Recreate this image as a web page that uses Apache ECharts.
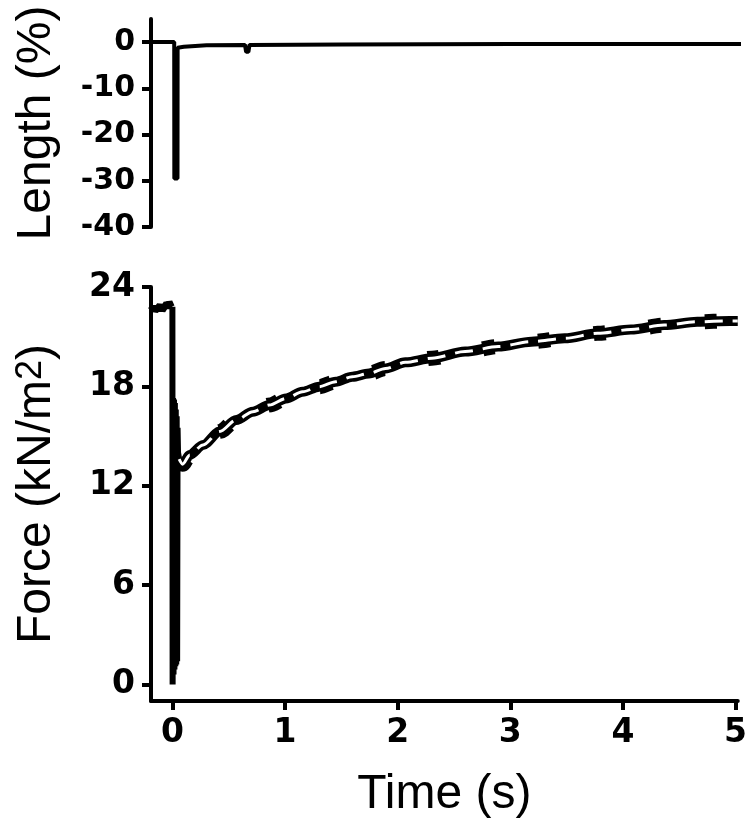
<!DOCTYPE html>
<html>
<head>
<meta charset="utf-8">
<script src="https://cdn.jsdelivr.net/npm/echarts@6/dist/echarts.min.js"></script>
<style>
  html, body { margin: 0; padding: 0; background: #fff; }
  #chart { width: 750px; height: 824px; }
</style>
</head>
<body>
<div id="chart"></div>
<script>
// tick labels
const timeTicks = [0, 1, 2, 3, 4, 5];
const lengthTicks = [0, -10, -20, -30, -40];
const forceTicks = [0, 6, 12, 18, 24];

// length step (%)
const lengthTime = [-0.19, 0.015, 0.016, 0.044, 0.045, 0.1, 0.3, 0.64, 0.65, 0.67, 0.68, 1.5, 3.0, 5.02];
const lengthValue = [0, 0, -29.5, -29.5, -1.2, -1.0, -0.7, -0.6, -2.1, -2.1, -0.6, -0.5, -0.4, -0.4];

// force before the release (noisy plateau)
const preTime = [-0.19, -0.17, -0.15, -0.13, -0.11, -0.09, -0.07, -0.05, -0.04, -0.03, -0.01, 0.0];
const preForce = [22.6, 22.8, 22.6, 22.7, 22.9, 22.6, 22.8, 23.0, 22.7, 23.1, 22.8, 22.8];

// release transient (fast oscillation)
const stepTime = [0.0, 0.002, 0.006, 0.01, 0.014, 0.018, 0.022, 0.026, 0.03, 0.034, 0.038, 0.042, 0.046, 0.05, 0.06];
const stepForce = [22.8, 0.0, 17.3, 0.6, 17.2, 0.9, 17.0, 1.1, 16.6, 1.2, 16.2, 1.4, 15.5, 14.0, 13.6];

// force recovery (trace with white dashed fit)
const recTime = [0.06, 0.09, 0.155, 0.272, 0.42, 0.567, 0.714, 0.861, 1.009, 1.155, 1.303, 1.45, 1.597, 1.745, 1.892, 2.069, 2.304, 2.599, 2.893, 3.187, 3.482, 3.776, 4.071, 4.366, 4.66, 4.95, 5.02];
const recForce = [13.6, 13.3, 13.86, 14.46, 15.27, 15.97, 16.47, 16.87, 17.27, 17.67, 17.98, 18.28, 18.58, 18.78, 19.08, 19.45, 19.7, 20.1, 20.4, 20.7, 20.9, 21.2, 21.43, 21.7, 21.9, 21.95, 21.95];

const zip = (xs, ys) => xs.map((x, i) => [x, ys[i]]);

const font = "'Liberation Sans', Arial, sans-serif";
const tickFont = "'DejaVu Sans', sans-serif";
const black = '#000';

const axisLine = { onZero: false, lineStyle: { color: black, width: 4 } };
const tick = (vals) => ({ customValues: vals, length: 9, lineStyle: { color: black, width: 4 } });
const label = (vals, size, margin) => ({
  customValues: vals, color: black, fontFamily: tickFont, fontWeight: 'bold', fontSize: size, margin: margin
});
const nameStyle = { color: black, fontFamily: font, fontSize: 48 };

const chart = echarts.init(document.getElementById('chart'));

const option = {
  animation: false,
  backgroundColor: '#fff',
  grid: [
    { left: 151, right: 9, top: 19, height: 208 },
    { left: 151, right: 9, top: 287, height: 416 }
  ],
  xAxis: [
    { gridIndex: 0, type: 'value', min: -0.19, max: 5.02, show: false },
    {
      gridIndex: 1, type: 'value', min: -0.19, max: 5.02,
      name: 'Time (s)', nameLocation: 'middle', nameGap: 70, nameTextStyle: nameStyle,
      axisLine: axisLine, axisTick: tick(timeTicks), axisLabel: label(timeTicks, 33, 16),
      splitLine: { show: false }
    }
  ],
  yAxis: [
    {
      gridIndex: 0, type: 'value', min: -40, max: 5,
      name: 'Length (%)', nameLocation: 'middle', nameGap: 90, nameTextStyle: nameStyle,
      axisLine: axisLine, axisTick: tick(lengthTicks), axisLabel: label(lengthTicks, 30, 16),
      splitLine: { show: false }
    },
    {
      gridIndex: 1, type: 'value', min: -1, max: 24,
      name: '{n|Force (kN/m}{s|2}{n|)}', nameLocation: 'middle', nameGap: 90,
      nameTextStyle: {
        color: black, fontFamily: font, fontSize: 48,
        rich: {
          n: { fontFamily: font, fontSize: 48, color: black },
          s: { fontFamily: font, fontSize: 36, color: black, verticalAlign: 'top' }
        }
      },
      axisLine: axisLine, axisTick: tick(forceTicks), axisLabel: label(forceTicks, 33, 16),
      splitLine: { show: false }
    }
  ],
  series: [
    {
      type: 'line', xAxisIndex: 0, yAxisIndex: 0, data: zip(lengthTime, lengthValue),
      showSymbol: false, lineStyle: { color: black, width: 4 }
    },
    {
      type: 'line', xAxisIndex: 1, yAxisIndex: 1, data: zip(preTime, preForce),
      showSymbol: false, lineStyle: { color: black, width: 7 }
    },
    {
      type: 'line', xAxisIndex: 1, yAxisIndex: 1, data: zip(stepTime, stepForce),
      showSymbol: false, lineStyle: { color: black, width: 6, join: 'bevel' }
    },
    {
      type: 'line', xAxisIndex: 1, yAxisIndex: 1, data: zip(recTime, recForce),
      showSymbol: false, smooth: 0.3, smoothMonotone: 'x', lineStyle: { color: black, width: 10 }
    },
    {
      // knobby noise on the trace
      type: 'line', xAxisIndex: 1, yAxisIndex: 1, data: zip(recTime, recForce),
      showSymbol: false, smooth: 0.3, smoothMonotone: 'x',
      lineStyle: { color: black, width: 15, type: [12, 44], cap: 'butt' }
    },
    {
      // fitted curve
      type: 'line', xAxisIndex: 1, yAxisIndex: 1, data: zip(recTime, recForce),
      showSymbol: false, smooth: 0.3, smoothMonotone: 'x',
      lineStyle: { color: '#fff', width: 3, type: [18, 10], cap: 'butt' }
    }
  ]
};

chart.setOption(option);
</script>
</body>
</html>
